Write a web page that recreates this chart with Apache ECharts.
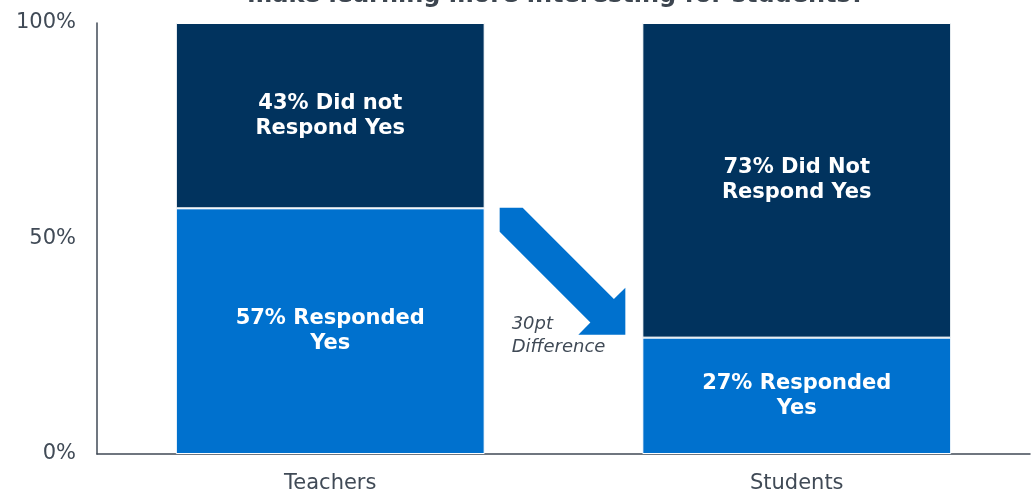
<!DOCTYPE html>
<html>
<head>
<meta charset="utf-8">
<script src="https://cdn.jsdelivr.net/npm/echarts@6/dist/echarts.min.js"></script>
<style>
html,body{margin:0;padding:0;background:#fff;}
#chart{width:1031px;height:494px;}
</style>
</head>
<body>
<div id="chart"></div>
<script>
const categories = ['Teachers', 'Students'];
const respondedYes = [57, 27];
const didNotRespondYes = [43, 73];
const yesLabels = ['57% Responded\nYes', '27% Responded\nYes'];
const noLabels = ['43% Did not\nRespond Yes', '73% Did Not\nRespond Yes'];
const yTicks = [0, 50, 100];
const titleText = 'make learning more interesting for students?';
const diffText = '30pt\nDifference';

const FONT = 'DejaVu Sans';
const TEXT_COLOR = '#404a56';
const chart = echarts.init(document.getElementById('chart'), null, {renderer: 'canvas'});

const labelStyle = (arr) => ({
  show: true,
  position: 'inside',
  color: '#ffffff',
  fontFamily: FONT,
  fontWeight: 'bold',
  fontSize: 21,
  lineHeight: 25,
  formatter: (p) => arr[p.dataIndex]
});

const option = {
  animation: false,
  backgroundColor: '#ffffff',
  grid: {left: 97, right: 1, top: 23, bottom: 38, containLabel: false},
  xAxis: {
    type: 'category',
    data: categories,
    axisLine: {show: true, lineStyle: {color: TEXT_COLOR, width: 1.5}},
    axisTick: {show: false},
    axisLabel: {color: TEXT_COLOR, fontFamily: FONT, fontSize: 21, margin: 19}
  },
  yAxis: {
    type: 'value',
    min: yTicks[0],
    max: yTicks[yTicks.length - 1],
    interval: yTicks[1] - yTicks[0],
    axisLine: {show: true, lineStyle: {color: TEXT_COLOR, width: 1.5}},
    axisTick: {show: false},
    splitLine: {show: false},
    axisLabel: {color: TEXT_COLOR, fontFamily: FONT, fontSize: 21, margin: 21, formatter: '{value}%'}
  },
  series: [
    {
      name: 'Responded Yes',
      type: 'bar',
      stack: 'total',
      barWidth: '66.2%',
      data: respondedYes,
      itemStyle: {color: '#0071ce', borderColor: '#ffffff', borderWidth: 1},
      label: labelStyle(yesLabels)
    },
    {
      name: 'Did Not Respond Yes',
      type: 'bar',
      stack: 'total',
      barWidth: '66.2%',
      data: didNotRespondYes,
      itemStyle: {color: '#01335e', borderColor: '#ffffff', borderWidth: 1},
      label: labelStyle(noLabels)
    }
  ]
};
chart.setOption(option);

// Annotation arrow computed from the axes
const c0 = chart.convertToPixel({xAxisIndex: 0, yAxisIndex: 0}, [0, respondedYes[0]]);
const c1 = chart.convertToPixel({xAxisIndex: 0, yAxisIndex: 0}, [1, respondedYes[1]]);
const band = c1[0] - c0[0];
const halfBar = band * 0.662 / 2;
const sx = c0[0] + halfBar + 15;
const sy = c0[1] - 0.5;
const Tx = c1[0] - halfBar - 17;
const Ty = c1[1] - 3;
const L = 47;
const k = Tx + Ty - L;          // hypotenuse: x + y = k
const up = sy - (sx + 23);      // upper edge: y - x = up
const lo = (sy + 24) - sx;      // lower edge: y - x = lo
const P3 = [(k - up) / 2, (k + up) / 2];
const P7 = [(k - lo) / 2, (k + lo) / 2];
const pts = [
  [sx, sy], [sx + 23, sy], P3, [Tx, Ty - L], [Tx, Ty], [Tx - L, Ty], P7, [sx, sy + 24]
];

chart.setOption({
  graphic: [
    {
      type: 'polygon',
      shape: {points: pts},
      style: {fill: '#0071ce'},
      silent: true
    },
    {
      type: 'text',
      x: sx + 12,
      y: c1[1] - 25,
      style: {
        text: diffText,
        fill: TEXT_COLOR,
        font: 'italic 18px "DejaVu Sans"',
        lineHeight: 23,
        align: 'left',
        verticalAlign: 'top'
      },
      silent: true
    },
    {
      type: 'text',
      x: 556,
      y: 8,
      style: {
        text: titleText,
        fill: '#3d4650',
        font: 'bold 24px "DejaVu Sans"',
        align: 'center',
        verticalAlign: 'bottom'
      },
      silent: true
    }
  ]
});
</script>
</body>
</html>
